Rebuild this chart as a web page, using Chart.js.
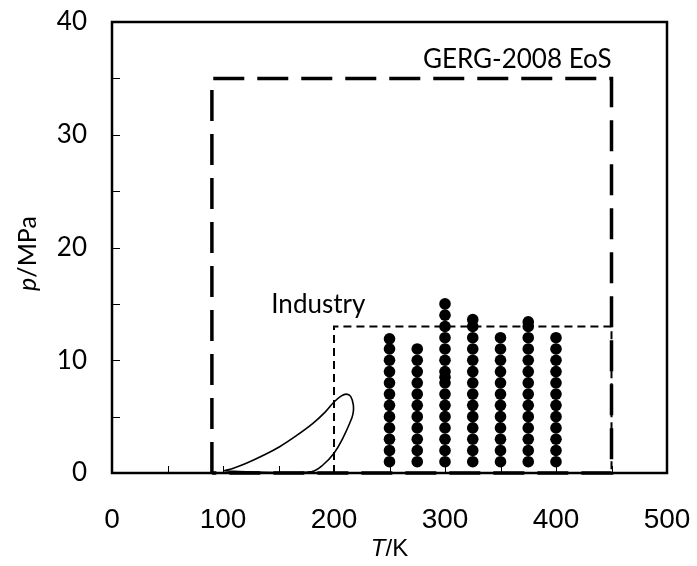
<!DOCTYPE html>
<html>
<head>
<meta charset="utf-8">
<script src="https://cdn.jsdelivr.net/npm/chart.js@4/dist/chart.umd.min.js"></script>
<style>
  html, body { margin: 0; padding: 0; background: #fff; }
  canvas { display: block; }
</style>
</head>
<body>
<canvas id="c" width="697" height="566"></canvas>
<script>
// Measured state points: temperature columns (K) and pressures (MPa) per column
const columnT = [250, 275, 300, 325, 350, 375, 400];
const p250 = [1, 2, 3, 4, 5, 6, 7, 8, 9, 10, 11, 11.9];
const p275 = [1, 2, 3, 4, 5, 6, 7, 8, 9, 10, 11];
const p300 = [1, 2, 3, 4, 5, 6, 7, 8, 8.5, 9, 10, 11, 12, 13, 14, 15];
const p325 = [1, 2, 3, 4, 5, 6, 7, 8, 9, 10, 11, 12, 13, 13.6];
const p350 = [1, 2, 3, 4, 5, 6, 7, 8, 9, 10, 11, 12];
const p375 = [1, 2, 3, 4, 5, 6, 7, 8, 9, 10, 11, 12, 13, 13.4];
const p400 = [1, 2, 3, 4, 5, 6, 7, 8, 9, 10, 11, 12];
const columnP = [p250, p275, p300, p325, p350, p375, p400];

// Phase envelope (closed loop)
const envT = [101, 110, 121, 136, 151, 166, 181, 192, 200, 206, 211, 215, 217.5, 217, 214.5, 208, 200, 190, 180, 160, 130, 110, 101];
const envP = [0.2, 0.45, 0.86, 1.55, 2.33, 3.3, 4.4, 5.4, 6.3, 6.8, 7.0, 6.8, 6.0, 5.2, 4.5, 3.1, 1.75, 0.71, 0.12, 0.05, 0.08, 0.14, 0.2];

// Validity range of the GERG-2008 equation of state
const gergT = [90, 90, 450, 450, 90];
const gergP = [0, 35, 35, 0, 0];

// Industrial operating range
const indT = [200, 200, 450, 450, 200];
const indP = [0, 13, 13, 0, 0];

// Axis ticks
const xTicks = [0, 100, 200, 300, 400, 500];
const yTicks = [0, 10, 20, 30, 40];

const toXY = (xs, ys) => xs.map((x, i) => ({ x: x, y: ys[i] }));

const dots = [];
columnT.forEach((t, i) => columnP[i].forEach(p => dots.push({ x: t, y: p })));

const datasets = [
  {
    label: 'data',
    data: dots,
    pointRadius: 5.8,
    pointBackgroundColor: '#000',
    pointBorderWidth: 0,
    showLine: false,
    clip: 8
  },
  {
    label: 'envelope',
    data: toXY(envT, envP),
    showLine: true,
    borderColor: '#000',
    borderWidth: 1.6,
    tension: 0.4,
    pointRadius: 0,
    clip: 8
  },
  {
    label: 'Industry',
    data: toXY(indT, indP),
    showLine: true,
    borderColor: '#000',
    borderWidth: 2,
    borderDash: [8, 5],
    tension: 0,
    pointRadius: 0,
    clip: 8
  },
  {
    label: 'GERG-2008 EoS',
    data: toXY(gergT, gergP),
    showLine: true,
    borderColor: '#000',
    borderWidth: 3.5,
    borderDash: [31, 13],
    tension: 0,
    pointRadius: 0,
    clip: 8
  }
];

// Frame, inward tick marks, axis titles and range labels
const decorations = {
  id: 'decorations',
  afterDatasetsDraw(chart) {
    const { ctx, chartArea: a, scales: { x, y } } = chart;
    ctx.save();
    ctx.strokeStyle = '#000';
    ctx.lineWidth = 1;
    for (let v = 5; v < 40; v += 5) {
      const py = Math.round(y.getPixelForValue(v)) + 0.5;
      ctx.beginPath();
      ctx.moveTo(a.left, py);
      ctx.lineTo(a.left + 8, py);
      ctx.stroke();
    }
    for (let v = 50; v < 500; v += 50) {
      const px = Math.round(x.getPixelForValue(v)) + 0.5;
      ctx.beginPath();
      ctx.moveTo(px, a.bottom);
      ctx.lineTo(px, a.bottom - 7);
      ctx.stroke();
    }
    ctx.lineWidth = 2.5;
    ctx.strokeRect(a.left, a.top, a.right - a.left, a.bottom - a.top);

    ctx.fillStyle = '#000';
    ctx.textBaseline = 'alphabetic';

    // range labels
    ctx.font = '26px Lato';
    ctx.textAlign = 'right';
    ctx.fillText('GERG-2008 EoS', x.getPixelForValue(450), y.getPixelForValue(35.9));
    ctx.textAlign = 'left';
    ctx.fillText('Industry', x.getPixelForValue(143.5), y.getPixelForValue(14.2));

    // x title: italic T, upright /K
    ctx.font = 'italic 24px "Liberation Sans"';
    const wT = ctx.measureText('T').width;
    ctx.font = '24px "Liberation Sans"';
    const wK = ctx.measureText('/K').width;
    const cx = (a.left + a.right) / 2;
    let sx = cx - (wT + wK) / 2;
    ctx.font = 'italic 24px "Liberation Sans"';
    ctx.fillText('T', sx, 556);
    ctx.font = '24px "Liberation Sans"';
    ctx.fillText('/K', sx + wT, 556);

    // y title: italic p, upright /MPa, rotated
    ctx.translate(36, (a.top + a.bottom) / 2 + 6);
    ctx.rotate(-Math.PI / 2);
    ctx.font = 'italic 25px Lato';
    const wp = ctx.measureText('p').width;
    ctx.font = '25px Lato';
    const wM = ctx.measureText('/MPa').width;
    sx = -(wp + wM) / 2;
    ctx.font = 'italic 25px Lato';
    ctx.fillText('p', sx, 0);
    ctx.font = '25px Lato';
    ctx.fillText('/MPa', sx + wp, 0);
    ctx.restore();
  }
};

new Chart(document.getElementById('c'), {
  type: 'scatter',
  data: { datasets },
  options: {
    responsive: false,
    animation: false,
    devicePixelRatio: 1,
    layout: { padding: { left: 0, right: 30, top: 22, bottom: 0 } },
    plugins: { legend: { display: false }, tooltip: { enabled: false } },
    scales: {
      x: {
        type: 'linear',
        min: 0,
        max: 500,
        afterBuildTicks(s) { s.ticks = xTicks.map(v => ({ value: v })); },
        ticks: { color: '#000', font: { family: 'Liberation Sans', size: 28 }, padding: 22, maxRotation: 0 },
        grid: { display: false },
        border: { display: false },
        afterFit(s) { s.height = 93; s.paddingLeft = 0; s.paddingRight = 0; }
      },
      y: {
        type: 'linear',
        min: 0,
        max: 40,
        afterBuildTicks(s) { s.ticks = yTicks.map(v => ({ value: v })); },
        ticks: { color: '#000', font: { family: 'Lato', size: 26 }, padding: 17 },
        grid: { display: false },
        border: { display: false },
        afterFit(s) { s.width = 112; s.paddingTop = 0; s.paddingBottom = 0; }
      }
    }
  },
  plugins: [decorations]
});
</script>
</body>
</html>
